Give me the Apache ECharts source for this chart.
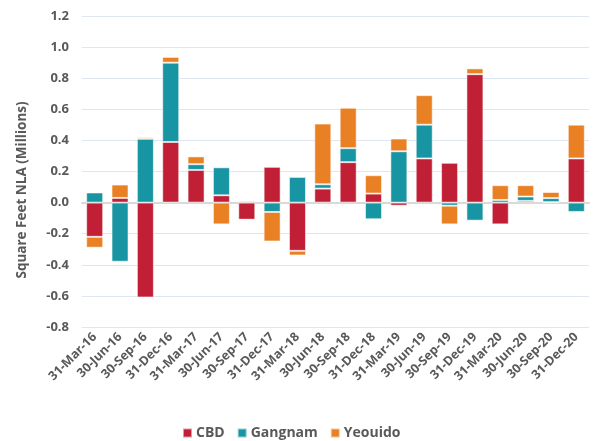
<!DOCTYPE html>
<html>
<head>
<meta charset="utf-8">
<script src="https://cdn.jsdelivr.net/npm/echarts@6/dist/echarts.min.js"></script>
<style>
  html, body { margin: 0; padding: 0; background: #fff; }
  #chart { width: 593px; height: 441px; }
</style>
</head>
<body>
<div id="chart"></div>
<script>
var quarters = ['31-Mar-16', '30-Jun-16', '30-Sep-16', '31-Dec-16', '31-Mar-17', '30-Jun-17', '30-Sep-17',
    '31-Dec-17', '31-Mar-18', '30-Jun-18', '30-Sep-18', '31-Dec-18', '31-Mar-19', '30-Jun-19',
    '30-Sep-19', '31-Dec-19', '31-Mar-20', '30-Jun-20', '30-Sep-20', '31-Dec-20']
var cbd = [-0.22, 0.03, -0.61, 0.39, 0.21, 0.047, -0.11, 0.23, -0.31, 0.09, 0.26, 0.058, -0.02, 0.284,
    0.256, 0.826, -0.14, 0.011, 0.003, 0.284]
var gangnam = [0.065, -0.38, 0.41, 0.51, 0.037, 0.18, 0, -0.06, 0.165, 0.028, 0.09, -0.107, 0.33, 0.217,
    -0.02, -0.116, 0.017, 0.028, 0.026, -0.06]
var yeouido = [-0.07, 0.086, 0.01, 0.037, 0.05, -0.14, 0.01, -0.19, -0.03, 0.39, 0.26, 0.118, 0.082, 0.19,
    -0.12, 0.037, 0.095, 0.073, 0.039, 0.217]
var colors = ['#C11F36', '#1795A3', '#E98024']

var textColor = '#595959'
var fontFam = '"Open Sans", sans-serif'

var myChart = echarts.init(document.getElementById('chart'))

function barSeries(name, data, color) {
    return {
        name: name,
        type: 'bar',
        stack: 'nla',
        barWidth: 17,
        data: data,
        itemStyle: {
            color: color,
            borderColor: 'rgba(255,255,255,0.55)',
            borderWidth: 1
        }
    }
}

var option = {
    animation: false,
    grid: { left: 82, right: 4, top: 16, bottom: 114 },
    legend: {
        left: 177,
        top: 421,
        itemWidth: 9,
        itemHeight: 9,
        itemGap: 12,
        icon: 'rect',
        textStyle: { color: textColor, fontSize: 14, fontWeight: 'bold', fontFamily: fontFam, padding: [0, 0, 0, -1] },
        data: ['CBD', 'Gangnam', 'Yeouido']
    },
    xAxis: [{
        type: 'category',
        data: quarters,
        axisLine: { show: false, onZero: false },
        axisTick: { show: false },
        axisLabel: {
            interval: 0,
            rotate: 45,
            margin: 8,
            color: textColor,
            fontSize: 12.5,
            fontWeight: 'bold',
            fontFamily: fontFam
        }
    }, {
        type: 'category',
        data: quarters,
        position: 'bottom',
        axisLine: { show: true, onZero: true, lineStyle: { color: '#d9d9d9', width: 2 } },
        axisTick: { show: false },
        axisLabel: { show: false }
    }],
    yAxis: {
        type: 'value',
        min: -0.8,
        max: 1.2,
        interval: 0.2,
        axisLine: { show: false },
        axisTick: { show: false },
        splitLine: { lineStyle: { color: '#dfe6f2', width: 1 } },
        axisLabel: {
            margin: 13,
            color: textColor,
            fontSize: 13,
            fontWeight: 'bold',
            fontFamily: fontFam,
            formatter: function (v) { return v.toFixed(1) }
        }
    },
    graphic: [{
        type: 'text',
        x: 22,
        y: 190,
        rotation: Math.PI / 2,
        style: {
            text: 'Square Feet NLA (Millions)',
            fill: textColor,
            font: 'bold 13.5px ' + fontFam,
            textAlign: 'center',
            textVerticalAlign: 'middle'
        }
    }],
    series: [
        barSeries('CBD', cbd, colors[0]),
        barSeries('Gangnam', gangnam, colors[1]),
        barSeries('Yeouido', yeouido, colors[2])
    ]
}

myChart.setOption(option)
</script>
</body>
</html>
